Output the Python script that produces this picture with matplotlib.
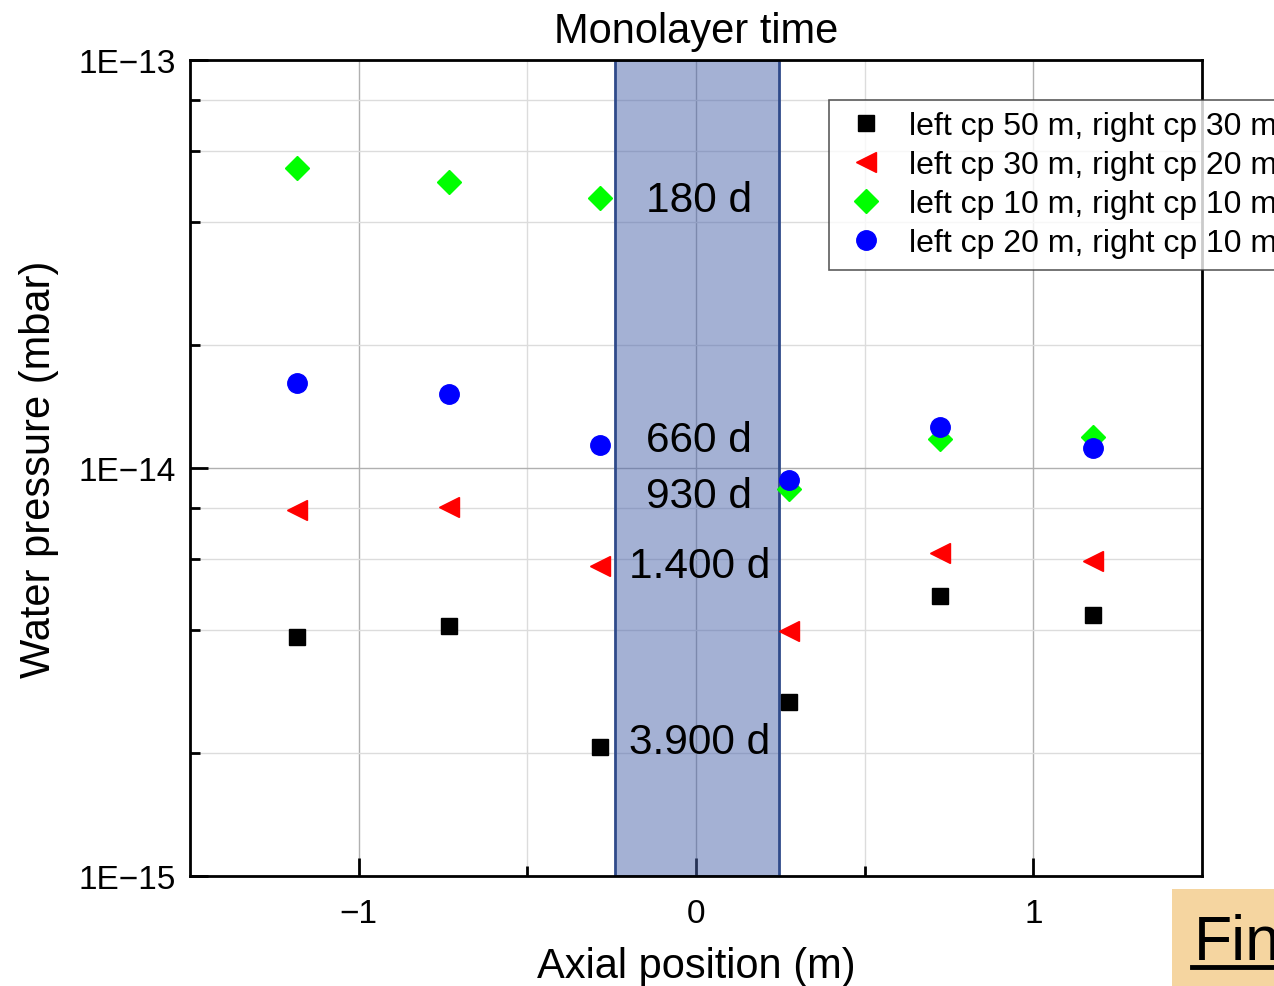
import numpy as np
import matplotlib
matplotlib.use('Agg')
import matplotlib.pyplot as plt
from matplotlib.patches import Rectangle
from matplotlib.ticker import FixedLocator, FuncFormatter, NullFormatter

plt.rcParams['font.family'] = ['Liberation Sans', 'DejaVu Sans']

# data
x_pos = [-1.184, -0.733, -0.285, 0.276, 0.724, 1.178]
p_50_30 = [3.85e-15, 4.1e-15, 2.07e-15, 2.67e-15, 4.86e-15, 4.36e-15]
p_30_20 = [7.89e-15, 8.02e-15, 5.75e-15, 3.98e-15, 6.19e-15, 5.92e-15]
p_10_10 = [5.44e-14, 5.02e-14, 4.59e-14, 8.88e-15, 1.18e-14, 1.19e-14]
p_20_10 = [1.62e-14, 1.52e-14, 1.14e-14, 9.35e-15, 1.26e-14, 1.12e-14]
labels = ['left cp 50 m, right cp 30 m', 'left cp 30 m, right cp 20 m',
          'left cp 10 m, right cp 10 m', 'left cp 20 m, right cp 10 m']
times = ['180 d', '660 d', '930 d', '1.400 d', '3.900 d']
time_y = [4.54e-14, 1.17e-14, 8.54e-15, 5.75e-15, 2.13e-15]

fig = plt.figure(figsize=(12.74, 9.87), dpi=100)
ax = fig.add_axes([0.1491, 0.1114, 0.7944, 0.8268])
ax.set_yscale('log')
ax.set_xlim(-1.5, 1.5)
ax.set_ylim(1e-15, 1e-13)

# ticks + grid
ax.xaxis.set_major_locator(FixedLocator([-1, 0, 1]))
ax.xaxis.set_minor_locator(FixedLocator([-0.5, 0.5]))
ax.yaxis.set_major_locator(FixedLocator([1e-15, 1e-14, 1e-13]))
minors = [m * 10.0**e for e in (-15, -14) for m in (2, 4, 6, 8)]
ax.yaxis.set_minor_locator(FixedLocator(minors))
ax.yaxis.set_minor_formatter(NullFormatter())
ax.yaxis.set_major_formatter(FuncFormatter(lambda v, p: '1E\u2212%d' % round(-np.log10(v))))
ax.xaxis.set_major_formatter(FuncFormatter(lambda v, p: ('\u2212%g' % -v) if v < 0 else '%g' % v))
ax.grid(True, which='major', color='#b0b0b0', lw=1.0, zorder=0)
ax.grid(True, which='minor', color='#dcdcdc', lw=1.0, zorder=0)
ax.set_axisbelow(True)

ax.axvspan(-0.24, 0.245, facecolor='#4a64ab', alpha=0.5, zorder=1)
ax.axvspan(-0.24, 0.245, facecolor='none', edgecolor='#2f4a8a', lw=2, zorder=1.1)

ax.plot(x_pos, p_50_30, 's', color='black', ms=12, ls='none', label=labels[0], zorder=3)
ax.plot(x_pos, p_30_20, '<', color='red', ms=15, ls='none', label=labels[1], zorder=3)
ax.plot(x_pos, p_10_10, 'D', color='#00ff00', ms=12, ls='none', label=labels[2], zorder=3)
ax.plot(x_pos, p_20_10, 'o', color='blue', ms=14, ls='none', label=labels[3], zorder=3)

for t, yy in zip(times, time_y):
    ax.text(0.01, yy, t, ha='center', va='center', fontsize=30.5, zorder=4)

ax.tick_params(which='both', direction='in', labelsize=24, width=2, top=False, right=False)
ax.tick_params(which='major', length=13)
ax.tick_params(axis='x', which='major', pad=16)
ax.tick_params(axis='y', which='major', pad=10)
ax.tick_params(which='minor', length=7)
for s in ax.spines.values():
    s.set_linewidth(2)

ax.set_xlabel('Axial position (m)', fontsize=30, labelpad=12)
ax.set_ylabel('Water pressure (mbar)', fontsize=30, labelpad=14)
ax.set_title('Monolayer time', fontsize=30, pad=13)

# legend runs off the right edge like in the original slide
leg = ax.legend(loc='upper left', bbox_to_anchor=(0.6507, 0.8977), bbox_transform=fig.transFigure,
                borderaxespad=0, fontsize=23, frameon=True, fancybox=False, edgecolor='#333333',
                handletextpad=0.55, borderpad=0.36, labelspacing=0.28, handlelength=1.6)
leg.get_frame().set_linewidth(1.2)

# "Fin" button cut at the corner
fig.add_artist(Rectangle((0.92, 0.0), 0.09, 0.0983, transform=fig.transFigure,
                         facecolor='#f5d5a0', edgecolor='none', zorder=5))
fig.text(0.937, 0.0274, 'Fin', fontsize=45, ha='left', va='baseline', zorder=6)
fig.add_artist(plt.Line2D([0.936, 1.0], [0.0193, 0.0193], color='black', lw=3.5, zorder=7))

fig.savefig('out.png', dpi=100)
